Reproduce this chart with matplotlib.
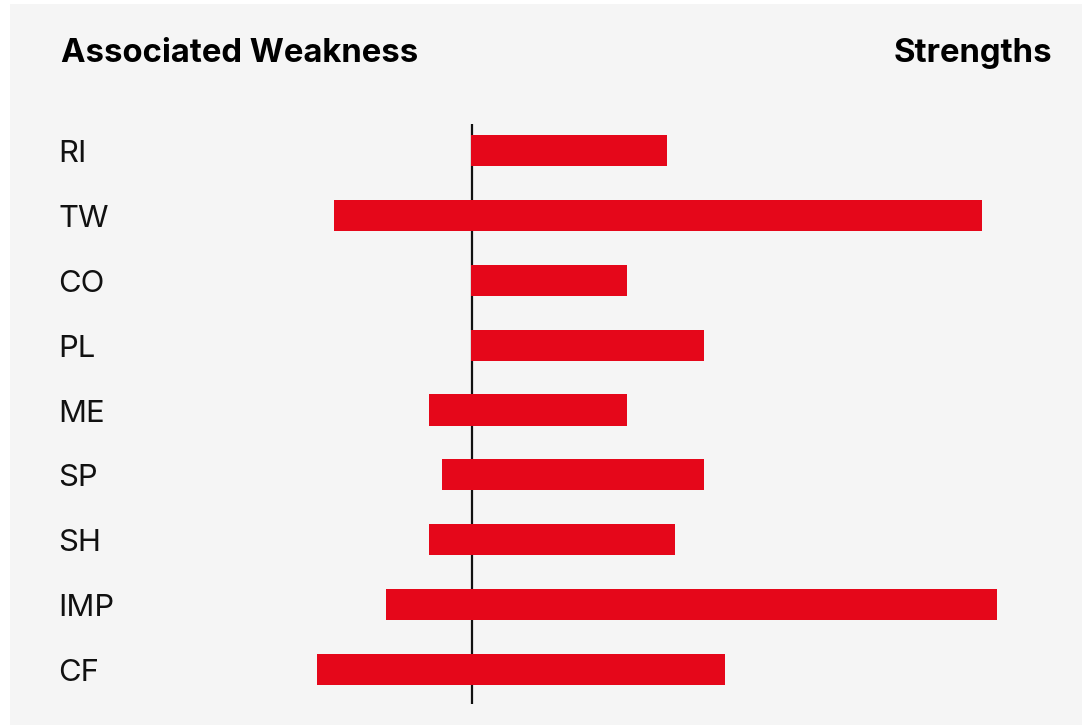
import matplotlib
matplotlib.use("Agg")
import matplotlib.pyplot as plt
from matplotlib.patches import Rectangle

categories = ["RI", "TW", "CO", "PL", "ME", "SP", "SH", "IMP", "CF"]
weakness = [0.0, -13.7, 0.0, 0.0, -4.2, -2.9, -4.2, -8.5, -15.4]
strengths = [19.6, 51.1, 15.6, 23.3, 15.6, 23.3, 20.4, 52.6, 25.4]

W, H = 1087, 725
DPI = 100
BG = "#f5f5f5"
RED = "#e5071a"
FONT = ["Inter", "DejaVu Sans"]

fig = plt.figure(figsize=(W / DPI, H / DPI), dpi=DPI, facecolor="white")
fig.patches.append(Rectangle((10 / W, 0), (1082 - 10) / W, (725 - 4) / H,
                             transform=fig.transFigure, facecolor=BG,
                             edgecolor="none", zorder=-10))

# axes: x px 300..1010, y px around bar centers 150.5 .. 669.5
x0, x1 = 300, 1010
zero_px = 471.0
step = (669.5 - 150.5) / 8
ytop = 150.5 - step / 2
ybot = 669.5 + step / 2
ax = fig.add_axes([x0 / W, 1 - ybot / H, (x1 - x0) / W, (ybot - ytop) / H])
ax.set_zorder(5)
ax.set_facecolor("none")
ax.set_xlim((x0 - zero_px) / 10, (x1 - zero_px) / 10)
n = len(categories)
ax.set_ylim(n - 0.5, -0.5)
for s in ax.spines.values():
    s.set_visible(False)
ax.set_xticks([])
ax.set_yticks([])

ypos = list(range(n))
lefts = weakness
widths = [s - w for s, w in zip(strengths, weakness)]
ax.barh(ypos, widths, left=lefts, height=0.478, color=RED, zorder=2)

# zero line
ax.plot([0.05, 0.05], [-0.41, n - 0.5 + 0.03], color="#111111", lw=1.6, zorder=1,
        solid_capstyle="butt", clip_on=False)

# category labels
for i, c in enumerate(categories):
    ypx = 150.5 + i * step + 11.5
    fig.text(58 / W, 1 - ypx / H, c, fontsize=22.3, family=FONT,
             ha="left", va="baseline", color="#111111")

fig.text(61 / W, 1 - 62 / H, "Associated Weakness", fontsize=23.7,
         fontweight="bold", family=FONT, ha="left", va="baseline", color="black")
fig.text(1052 / W, 1 - 62 / H, "Strengths", fontsize=23.7,
         fontweight="bold", family=FONT, ha="right", va="baseline", color="black")

fig.savefig("out.png", dpi=DPI, facecolor="white")
